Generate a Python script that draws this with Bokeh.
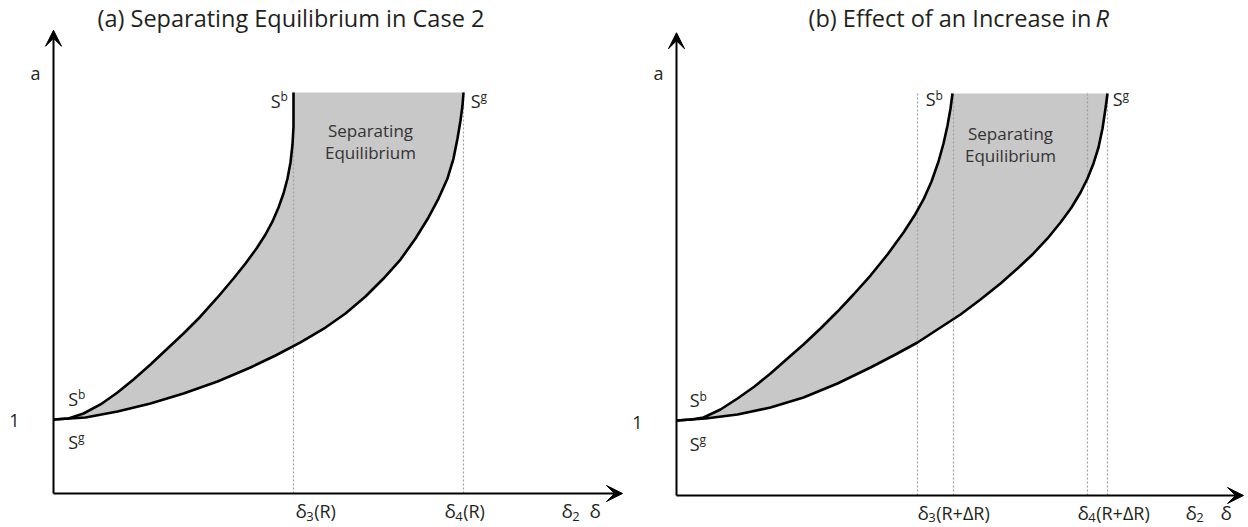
from bokeh.plotting import figure
from bokeh.layouts import row
from bokeh.models import Arrow, VeeHead, Label, Range1d
from bokeh.embed import file_html
from bokeh.resources import INLINE

# ---------------- data ----------------
# Panel (a): separating equilibrium in case 2
a_sb_delta = [0.00, 0.15, 0.30, 0.47, 0.64, 0.80, 0.97, 1.14, 1.30, 1.47, 1.64, 1.80,
              1.92, 2.03, 2.12, 2.19, 2.25, 2.30, 2.34, 2.37, 2.39, 2.40, 2.40]
a_sb_a     = [1.000, 1.014, 1.081, 1.203, 1.365, 1.541, 1.743, 1.959, 2.162, 2.392, 2.649,
              2.905, 3.108, 3.311, 3.500, 3.676, 3.865, 4.054, 4.257, 4.473, 4.716, 4.959,
              5.419]
a_sg_delta = [0.00, 0.32, 0.64, 0.97, 1.30, 1.64, 1.97, 2.22, 2.47, 2.72, 2.92, 3.12,
              3.30, 3.47, 3.62, 3.75, 3.85, 3.94, 4.00, 4.04, 4.07, 4.09, 4.10]
a_sg_a     = [1.000, 1.027, 1.108, 1.216, 1.351, 1.514, 1.703, 1.865, 2.041, 2.243, 2.432,
              2.662, 2.905, 3.162, 3.446, 3.730, 3.986, 4.257, 4.527, 4.797, 5.041, 5.243,
              5.419]
a_cut_delta = [2.40, 4.10]          # delta3(R), delta4(R)
a_top = 5.419

# Panel (b): effect of an increase in R
b_sb_delta = [0.00, 0.15, 0.27, 0.44, 0.61, 0.78, 0.94, 1.11, 1.27, 1.44, 1.61, 1.77,
              1.94, 2.11, 2.27, 2.38, 2.47, 2.55, 2.62, 2.67, 2.71, 2.74, 2.76]
b_sb_a     = [1.000, 1.013, 1.040, 1.147, 1.293, 1.453, 1.627, 1.827, 2.013, 2.227, 2.453,
              2.680, 2.933, 3.213, 3.507, 3.733, 3.947, 4.187, 4.453, 4.693, 4.933, 5.160,
              5.360]
b_sg_delta = [0.00, 0.29, 0.61, 0.94, 1.27, 1.61, 1.94, 2.19, 2.41, 2.64, 2.84, 3.04,
              3.24, 3.41, 3.57, 3.71, 3.84, 3.95, 4.04, 4.11, 4.17, 4.22, 4.26, 4.29, 4.31]
b_sg_a     = [1.000, 1.027, 1.080, 1.173, 1.307, 1.493, 1.707, 1.880, 2.040, 2.240, 2.413,
              2.613, 2.827, 3.027, 3.227, 3.427, 3.640, 3.840, 4.040, 4.227, 4.427, 4.640,
              4.893, 5.160, 5.360]
b_cut_delta = [2.41, 2.77, 4.11, 4.31]  # delta3(R), delta3(R+dR), delta4(R), delta4(R+dR)
b_top = 5.360

FONT = "Open Sans"
FILL = "#c8c8c8"
TXT = "#231f20"


def make_panel(xr, yr, sb_d, sb_a, sg_d, sg_a, cuts, top, x_tip, y_tip):
    p = figure(width=624, height=527, x_range=Range1d(*xr), y_range=Range1d(*yr),
               output_backend="svg", toolbar_location=None,
               x_axis_type=None, y_axis_type=None, min_border=0)
    p.grid.visible = False
    p.outline_line_color = None
    p.background_fill_color = "white"
    p.border_fill_color = "white"

    # shaded region between the two curves
    xs = list(sg_d) + list(reversed(sb_d))
    ys = list(sg_a) + list(reversed(sb_a))
    p.patch(xs, ys, fill_color=FILL, line_color=None)

    # dotted vertical guides
    p.segment(x0=cuts, y0=[0] * len(cuts), x1=cuts, y1=[top] * len(cuts),
              line_color="#a0a0a0", line_width=1.2, line_dash="2 2")

    # curves
    p.line(sb_d, sb_a, line_color="black", line_width=2.6, line_join="round")
    p.line(sg_d, sg_a, line_color="black", line_width=2.6, line_join="round")

    # axes with arrows
    p.add_layout(Arrow(end=VeeHead(size=16, fill_color="black", line_color="black"),
                       x_start=0, y_start=0, x_end=0, y_end=y_tip,
                       line_color="black", line_width=2))
    p.add_layout(Arrow(end=VeeHead(size=16, fill_color="black", line_color="black"),
                       x_start=0, y_start=0, x_end=x_tip, y_end=0,
                       line_color="black", line_width=2))
    return p


def lab(p, x, y, text, size=17, align="center", style="normal", color=TXT,
        xo=0, yo=0):
    p.add_layout(Label(x=x, y=y, text=text, text_font=FONT, text_font_size=f"{size}px",
                       text_align=align, text_baseline="middle", text_color=color,
                       text_font_style=style, x_offset=xo, y_offset=yo))


def s_label(p, x, y, sup):
    # "S" with a superscript letter, joined at x
    lab(p, x, y, "S", size=18, align="right", xo=1)
    lab(p, x, y, sup, size=12, align="left", xo=1, yo=4)


def delta_label(p, x, y, sub, rest=""):
    # delta with a numeric subscript, followed by the rest of the label
    base = 19
    subsize = 13
    w_d = 0.56 * base
    w_s = 0.58 * subsize
    lab(p, x, y, "δ", size=base, align="left")
    lab(p, x, y, sub, size=subsize, align="left", xo=w_d, yo=-5)
    if rest:
        lab(p, x, y, rest, size=18, align="left", xo=w_d + w_s + 0.5)


# ---------------- panel (a) ----------------
pa = make_panel((-0.53, 5.71), (-0.4595, 6.6622), a_sb_delta, a_sb_a, a_sg_delta, a_sg_a,
                a_cut_delta, a_top, 5.69, 6.26)
lab(pa, 0.44, 6.43, "(a) Separating Equilibrium in Case 2", size=23.5, align="left")
lab(pa, -0.18, 5.68, "a", size=18)
lab(pa, -0.39, 0.99, "1", size=18)
s_label(pa, 0.235, 1.28, "b")
s_label(pa, 0.235, 0.70, "g")
s_label(pa, 2.26, 5.31, "b")
s_label(pa, 4.26, 5.31, "g")
lab(pa, 3.17, 4.90, "Separating", size=17, color="#333333")
lab(pa, 3.17, 4.61, "Equilibrium", size=17, color="#333333")
delta_label(pa, 2.42, -0.243, "3", "(R)")
delta_label(pa, 3.91, -0.243, "4", "(R)")
delta_label(pa, 5.08, -0.243, "2")
lab(pa, 5.36, -0.243, "δ", size=19, align="left")

# ---------------- panel (b) ----------------
pb = make_panel((-0.52, 5.72), (-0.4267, 6.6), b_sb_delta, b_sb_a, b_sg_delta, b_sg_a,
                b_cut_delta, b_top, 5.67, 6.17)
lab(pb, 1.32, 6.36, "(b) Effect of an Increase in", size=23.5, align="left")
lab(pb, 4.19, 6.36, "R", size=23.5, align="left", style="italic")
lab(pb, -0.18, 5.63, "a", size=18)
lab(pb, -0.39, 0.97, "1", size=18)
s_label(pb, 0.22, 1.27, "b")
s_label(pb, 0.22, 0.69, "g")
s_label(pb, 2.58, 5.28, "b")
s_label(pb, 4.45, 5.28, "g")
lab(pb, 3.34, 4.82, "Separating", size=17, color="#333333")
lab(pb, 3.34, 4.53, "Equilibrium", size=17, color="#333333")
delta_label(pb, 2.41, -0.227, "3", "(R+ΔR)")
delta_label(pb, 4.01, -0.227, "4", "(R+ΔR)")
delta_label(pb, 5.09, -0.227, "2")
lab(pb, 5.44, -0.227, "δ", size=19, align="left")

layout = row(pa, pb)
open("out.html", "w").write(file_html(layout, INLINE))
